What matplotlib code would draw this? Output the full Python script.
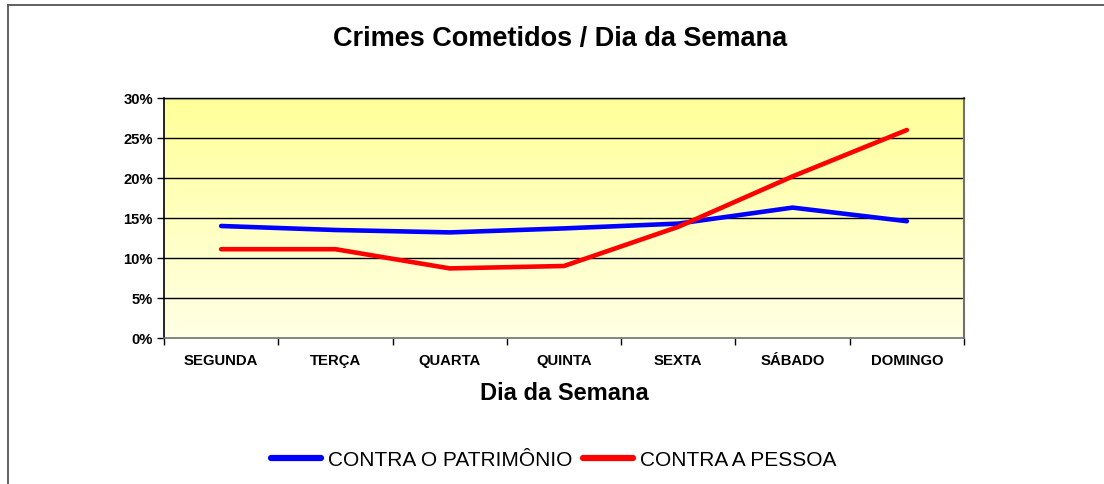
import matplotlib
matplotlib.use("Agg")
import matplotlib.pyplot as plt
import numpy as np
from matplotlib.lines import Line2D
from matplotlib.ticker import FuncFormatter, FixedLocator
from matplotlib.colors import LinearSegmentedColormap

plt.rcParams['font.family'] = ['Liberation Sans', 'DejaVu Sans']

days = ["SEGUNDA", "TERÇA", "QUARTA", "QUINTA", "SEXTA", "SÁBADO", "DOMINGO"]
patrimonio = [14.0, 13.5, 13.2, 13.7, 14.3, 16.3, 14.6]
pessoa = [11.1, 11.1, 8.7, 9.0, 13.9, 20.2, 26.0]
series_names = ["CONTRA O PATRIMÔNIO", "CONTRA A PESSOA"]
yticks = [0, 5, 10, 15, 20, 25, 30]

W, H = 1104, 485
fig = plt.figure(figsize=(W/100, H/100), dpi=100)
ax = fig.add_axes([164/W, 1-339/H, 800/W, 240/H])

n = len(days)
x = np.arange(n)
ax.set_xlim(-0.5, n-0.5)
ax.set_ylim(0, 30)

# gradient background
grad = np.linspace(0, 1, 256).reshape(-1, 1)
cmap = LinearSegmentedColormap.from_list("g", ["#FFFFE6", "#FFFF99"])
ax.imshow(grad, aspect='auto', cmap=cmap, origin='lower',
          extent=[-0.5, n-0.5, 0, 30], zorder=0)

for yv in yticks[1:]:
    ax.axhline(yv, color='black', lw=1.0, zorder=1)

ax.plot(x, patrimonio, color='#0000FF', lw=3.3, solid_capstyle='round', zorder=3, label=series_names[0])
ax.plot(x, pessoa, color='#FF0000', lw=3.3, solid_capstyle='round', zorder=3, label=series_names[1])

ax.set_yticks(yticks)
ax.yaxis.set_major_formatter(FuncFormatter(lambda v, p: f"{int(v)}%"))
ax.set_xticks(x)
ax.set_xticklabels(days)
ax.xaxis.set_minor_locator(FixedLocator(np.arange(-0.5, n, 1.0)))
ax.tick_params(axis='x', which='major', length=0, pad=11, labelsize=10.7)
ax.tick_params(axis='x', which='minor', length=5, width=1, direction='out', color='black')
ax.tick_params(axis='y', length=5, width=1, direction='out', labelsize=10.6, pad=3)
for lab in ax.get_xticklabels() + ax.get_yticklabels():
    lab.set_fontweight('bold')

ax.spines['left'].set_color('black')
ax.spines['left'].set_linewidth(1.2)
ax.spines['top'].set_color('black')
ax.spines['top'].set_linewidth(1.0)
ax.spines['right'].set_color('#707070')
ax.spines['right'].set_linewidth(1.5)
ax.spines['bottom'].set_color('#707070')
ax.spines['bottom'].set_linewidth(1.2)

ax.set_xlabel("Dia da Semana", fontsize=17, fontweight='bold', labelpad=10)

fig.text(560/W, 1-39/H, "Crimes Cometidos / Dia da Semana", ha='center', va='center',
         fontsize=19.5, fontweight='bold')

handles = [Line2D([], [], color='#0000FF', lw=4.5, solid_capstyle='round'),
           Line2D([], [], color='#FF0000', lw=4.5, solid_capstyle='round')]
fig.legend(handles, series_names, loc='center', bbox_to_anchor=(554/W, 1-461/H),
           ncol=2, frameon=False, fontsize=15, handlelength=2.4, handletextpad=0.35,
           columnspacing=0.5)

# figure frame (left and top lines)
fig.add_artist(Line2D([8/W, 8/W], [0, 1-6/H], transform=fig.transFigure, color='#555555', lw=1.3))
fig.add_artist(Line2D([8/W, 1], [1-6/H, 1-6/H], transform=fig.transFigure, color='#555555', lw=1.3))

fig.savefig("out.png", dpi=100)
